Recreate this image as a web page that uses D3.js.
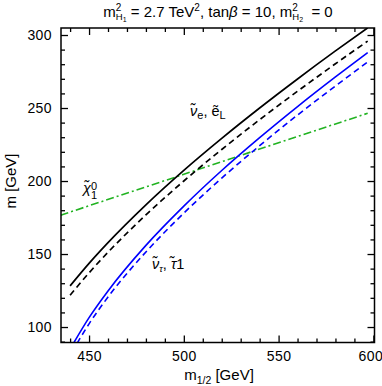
<!DOCTYPE html>
<html>
<head>
<meta charset="utf-8">
<style>
body { margin: 0; background: #fff; }
text { font-family: "Liberation Sans", Arial, sans-serif; fill: #000; white-space: pre; }
</style>
</head>
<body>
<svg width="382" height="386"></svg>
<script src="https://cdn.jsdelivr.net/npm/d3@7"></script>
<script>
// m_1/2 grid and masses (GeV)
var mSel = [440, 450, 460, 480, 500, 520, 540, 560, 580, 597];
var selectron = [128.2, 143.6, 157.8, 183.7, 207.3, 229.2, 250.0, 269.9, 289.1, 304.9];
var sneutrinoE = [121.8, 137.1, 151.2, 176.8, 200.0, 221.6, 242.0, 261.5, 280.3, 295.8];

var mStau = [441, 450, 460, 480, 500, 520, 540, 560, 580, 597];
var stau = [87.1, 106.4, 124.7, 155.9, 182.8, 207.2, 229.7, 251.0, 271.3, 288.0];
var sneutrinoTau = [82.9, 102.2, 120.5, 151.4, 178.0, 202.0, 224.2, 245.2, 265.1, 281.5];

var mChi = [435, 500, 550, 597];
var neutralino = [176.6, 204.6, 226.2, 246.4];

var xMajor = [450, 500, 550, 600];
var yMajor = [100, 150, 200, 250, 300];

var svg = d3.select("svg");
var pLeft = 61, pRight = 374.5, pTop = 28, pBottom = 342.5;

var x = d3.scaleLinear().domain([435.2, 600.6]).range([pLeft, pRight]);
var y = d3.scaleLinear().domain([89.4, 304.8]).range([pBottom, pTop]);

var xMinor = d3.range(440, 601, 10).filter(function(v) { return v % 50 != 0; });
var yMinor = d3.range(90, 305, 10).filter(function(v) { return v % 50 != 0; });

svg.append("defs").append("clipPath").attr("id", "plot")
	.append("rect").attr("x", pLeft).attr("y", pTop)
	.attr("width", pRight - pLeft).attr("height", pBottom - pTop);

function ticks(axis, tx, ty, vals, size, labels) {
	var g = svg.append("g").attr("transform", "translate(" + tx + "," + ty + ")")
		.call(axis.tickValues(vals).tickSize(-size).tickPadding(labels ? 9 : 0)
			.tickFormat(labels ? d3.format("d") : ""));
	g.select(".domain").remove();
	g.selectAll("line").attr("stroke", "#000").attr("stroke-width", 1.3);
	g.selectAll("text").attr("font-size", 14).attr("letter-spacing", 0.4)
		.attr("fill", "#000")
		.style("font-family", "'Liberation Sans', Arial, sans-serif");
	return g;
}

var xAxis = ticks(d3.axisBottom(x), 0, pBottom, xMajor, 7, true);
// last label sits at the very edge of the picture
xAxis.selectAll("text").filter(function(d) { return d == 600; }).attr("dx", -3);
ticks(d3.axisBottom(x), 0, pBottom, xMinor, 4, false);
ticks(d3.axisTop(x), 0, pTop, xMajor, 7, false);
ticks(d3.axisTop(x), 0, pTop, xMinor, 4, false);
ticks(d3.axisLeft(y), pLeft, 0, yMajor, 7, true);
ticks(d3.axisLeft(y), pLeft, 0, yMinor, 4, false);
ticks(d3.axisRight(y), pRight, 0, yMajor, 7, false);
ticks(d3.axisRight(y), pRight, 0, yMinor, 4, false);

var curves = svg.append("g").attr("clip-path", "url(#plot)").attr("fill", "none");

function curve(xs, ys, color, dash, w) {
	var line = d3.line().x(function(d, i) { return x(xs[i]); })
		.y(function(d) { return y(d); }).curve(d3.curveMonotoneX);
	curves.append("path").datum(ys).attr("d", line)
		.attr("stroke", color).attr("stroke-width", w)
		.attr("stroke-dasharray", dash);
}

curve(mChi, neutralino, "#22b322", "8,3,2,3", 1.6);
curve(mSel, selectron, "#000", null, 1.7);
curve(mSel, sneutrinoE, "#000", "6,4", 1.7);
curve(mStau, stau, "#0000ff", null, 1.6);
curve(mStau, sneutrinoTau, "#0000ff", "6,4", 1.6);

svg.append("rect").attr("x", pLeft).attr("y", pTop)
	.attr("width", pRight - pLeft).attr("height", pBottom - pTop)
	.attr("fill", "none").attr("stroke", "#000").attr("stroke-width", 1.5);

// text made of pieces: size, baseline shift, italic, stacked under previous
function rich(x0, y0, parts, anchor, rotate) {
	var g = svg.append("g");
	var cx = 0, lastStart = 0;
	parts.forEach(function(p) {
		var px = p.back ? lastStart : cx;
		var t = g.append("text").attr("x", px).attr("y", p.b || 0)
			.attr("font-size", p.s).text(p.t);
		if (p.i) t.attr("font-style", "italic");
		var w = t.node().getComputedTextLength();
		lastStart = px;
		cx = Math.max(cx, px + w);
	});
	var shift = anchor == "middle" ? -cx / 2 : 0;
	g.attr("transform", "translate(" + x0 + "," + y0 + ")" + (rotate ? " rotate(-90)" : "") +
		" translate(" + shift + ",0)");
	return g;
}

rich(218, 17, [
	{t: "m", s: 15}, {t: "2", s: 10, b: -6}, {t: "H", s: 9.5, b: 3, back: true}, {t: "1", s: 7, b: 5},
	{t: " = 2.7 TeV", s: 15}, {t: "2", s: 10, b: -6},
	{t: ", tan", s: 15}, {t: "β", s: 15, i: true},
	{t: " = 10, m", s: 15}, {t: "2", s: 10, b: -6}, {t: "H", s: 9.5, b: 3, back: true}, {t: "2", s: 7, b: 5},
	{t: "  = 0", s: 15}
], "middle");

rich(219, 380, [
	{t: "m", s: 15}, {t: "1/2", s: 10.5, b: 4}, {t: " [GeV]", s: 15}
], "middle");

rich(16, 181, [{t: "m [GeV]", s: 15}], "middle", true);

rich(190, 116, [
	{t: "ν\u0303", s: 14.5, i: true}, {t: "e", s: 11, b: 3},
	{t: ", ", s: 14.5}, {t: "ẽ", s: 14.5}, {t: "L", s: 11, b: 3}
]);

rich(83, 193, [
	{t: "χ\u0303", s: 14.5, i: true}, {t: "0", s: 11, b: -3}, {t: "1", s: 11, b: 6, back: true}
]);

rich(152, 269, [
	{t: "ν\u0303", s: 14.5, i: true}, {t: "τ", s: 9.5, i: true, b: 3},
	{t: ", ", s: 14.5}, {t: "τ\u0303", s: 14.5, i: true}, {t: "1", s: 14.5}
]);
</script>
</body>
</html>
